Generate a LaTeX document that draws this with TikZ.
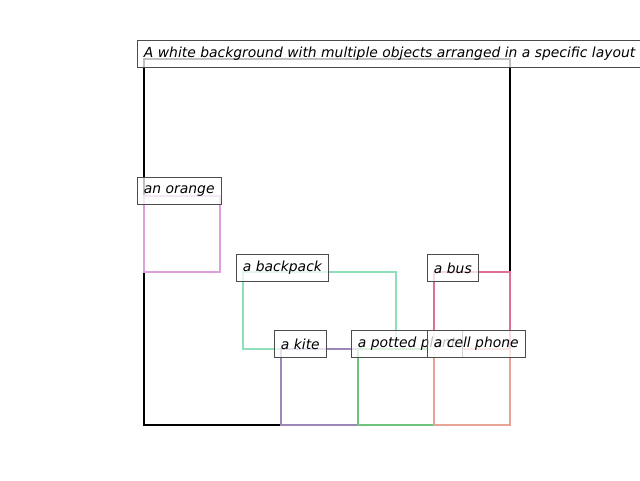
\documentclass[tikz,border=0pt]{standalone}
\usepackage{fontspec}
\setmainfont{DejaVu Sans}
\definecolor{cmain}{HTML}{000000}
\definecolor{corange}{HTML}{DDA0DD}
\definecolor{cbackpack}{HTML}{8FDDB9}
\definecolor{cbus}{HTML}{DD7096}
\definecolor{ckite}{HTML}{9C88B8}
\definecolor{cplant}{HTML}{6CC47A}
\definecolor{cphone}{HTML}{E6A398}
\begin{document}
\begin{tikzpicture}[x=1pt,y=-1pt,
  box/.style={line width=2.2pt},
  lab/.style={anchor=west,draw=black!70,line width=0.9pt,fill=white,fill opacity=0.75,text opacity=1,
    inner xsep=6.5pt,inner ysep=0pt,minimum height=26.5pt,
    font=\fontsize{13.9}{16}\selectfont\itshape}]
\useasboundingbox (0,0) rectangle (640,480);
\draw[box,cmain,line width=2.5pt] (144,59) rectangle (510,425);
\draw[box,corange] (144,196) rectangle (220,272);
\draw[box,cbackpack] (243,272) rectangle (396,349);
\draw[box,cbus] (434,272) rectangle (510,425);
\draw[box,ckite] (281,349) rectangle (358,425);
\draw[box,cplant] (358,349) rectangle (434,425);
\draw[box,cphone] (434,349) rectangle (510,425);
\node[lab] (ltitle) at (137,54) {A white background with multiple objects arranged in a specific layout};
\node[lab] (lorange) at (137,191) {an orange};
\node[lab] (lbackpack) at (236,268) {a backpack};
\node[lab] (lbus) at (427,268) {a bus};
\node[lab] (lkite) at (274,344) {a kite};
\node[lab] (lplant) at (351,344) {a potted plant};
\node[lab] (lphone) at (427,344) {a cell phone};
\end{tikzpicture}
\end{document}
